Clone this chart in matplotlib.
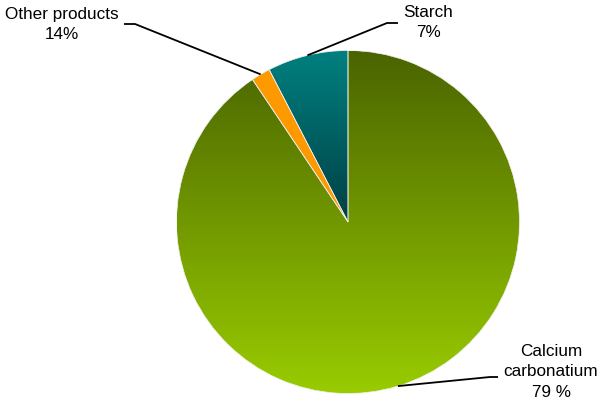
import numpy as np
import matplotlib
matplotlib.use("Agg")
import matplotlib.pyplot as plt
from matplotlib.colors import to_rgb

# ---- data ----
categories = ["Starch", "Other products", "Calcium carbonatium"]
slice_values = [7.6, 1.8, 90.6]          # slice sizes as drawn
label_texts = ["Starch\n7%", "Other products\n14%", "Calcium\ncarbonatium\n79 %"]

# ---- style ----
grad_colors = [("#008080", "#004044"), ("#ff9900", "#ff9900"), ("#4a6400", "#99cc00")]

fig = plt.figure(figsize=(6.0, 4.02), dpi=100)
ax = fig.add_axes([0, 0, 1, 1])
cx, cy, R = 348, 179, 171.5

wedges, _ = ax.pie(slice_values, startangle=90, counterclock=True,
                   center=(cx, cy), radius=R,
                   wedgeprops=dict(facecolor="none", edgecolor="#f0f0f0", linewidth=0.5, zorder=3))

def grad_img(top, bottom, n=256):
    t = np.linspace(0, 1, n)[:, None]
    a = np.array(to_rgb(bottom)); b = np.array(to_rgb(top))
    return (a + (b - a) * t)[:, None, :]

for i, (w, (top, bot)) in enumerate(zip(wedges, grad_colors)):
    if i == 0:
        ext = (cx - R, cx + R, cy, cy + R)
    else:
        ext = (cx - R, cx + R, cy - R, cy + R)
    im = ax.imshow(grad_img(top, bot), extent=ext, origin="lower",
                   aspect="auto", interpolation="bilinear", zorder=2)
    im.set_clip_path(w)

# leader lines and labels
font = dict(family="Liberation Sans", size=12.3)
elbows = [(398, 24, 387), (124, 25, 135), (498, 378, 490)]   # (text end x, y, elbow x) in px
text_pos = [(428, 5), (62, 7), (551, 344)]
for w, lab, (ex, ey, kx), (tx, ty) in zip(wedges, label_texts, elbows, text_pos):
    ang = np.deg2rad((w.theta1 + w.theta2) / 2)
    px, py = cx + R * np.cos(ang), cy + R * np.sin(ang)
    ax.plot([px, kx, ex], [py, 402 - ey, 402 - ey], color="black", lw=1.3,
            solid_capstyle="butt", zorder=4)
    ax.text(tx, 402 - ty, lab, ha="center", va="top", multialignment="center",
            linespacing=1.45, **font)

ax.set_xlim(0, 600)
ax.set_ylim(0, 402)
ax.set_aspect("equal")
ax.axis("off")
fig.savefig("out.png", dpi=100)
